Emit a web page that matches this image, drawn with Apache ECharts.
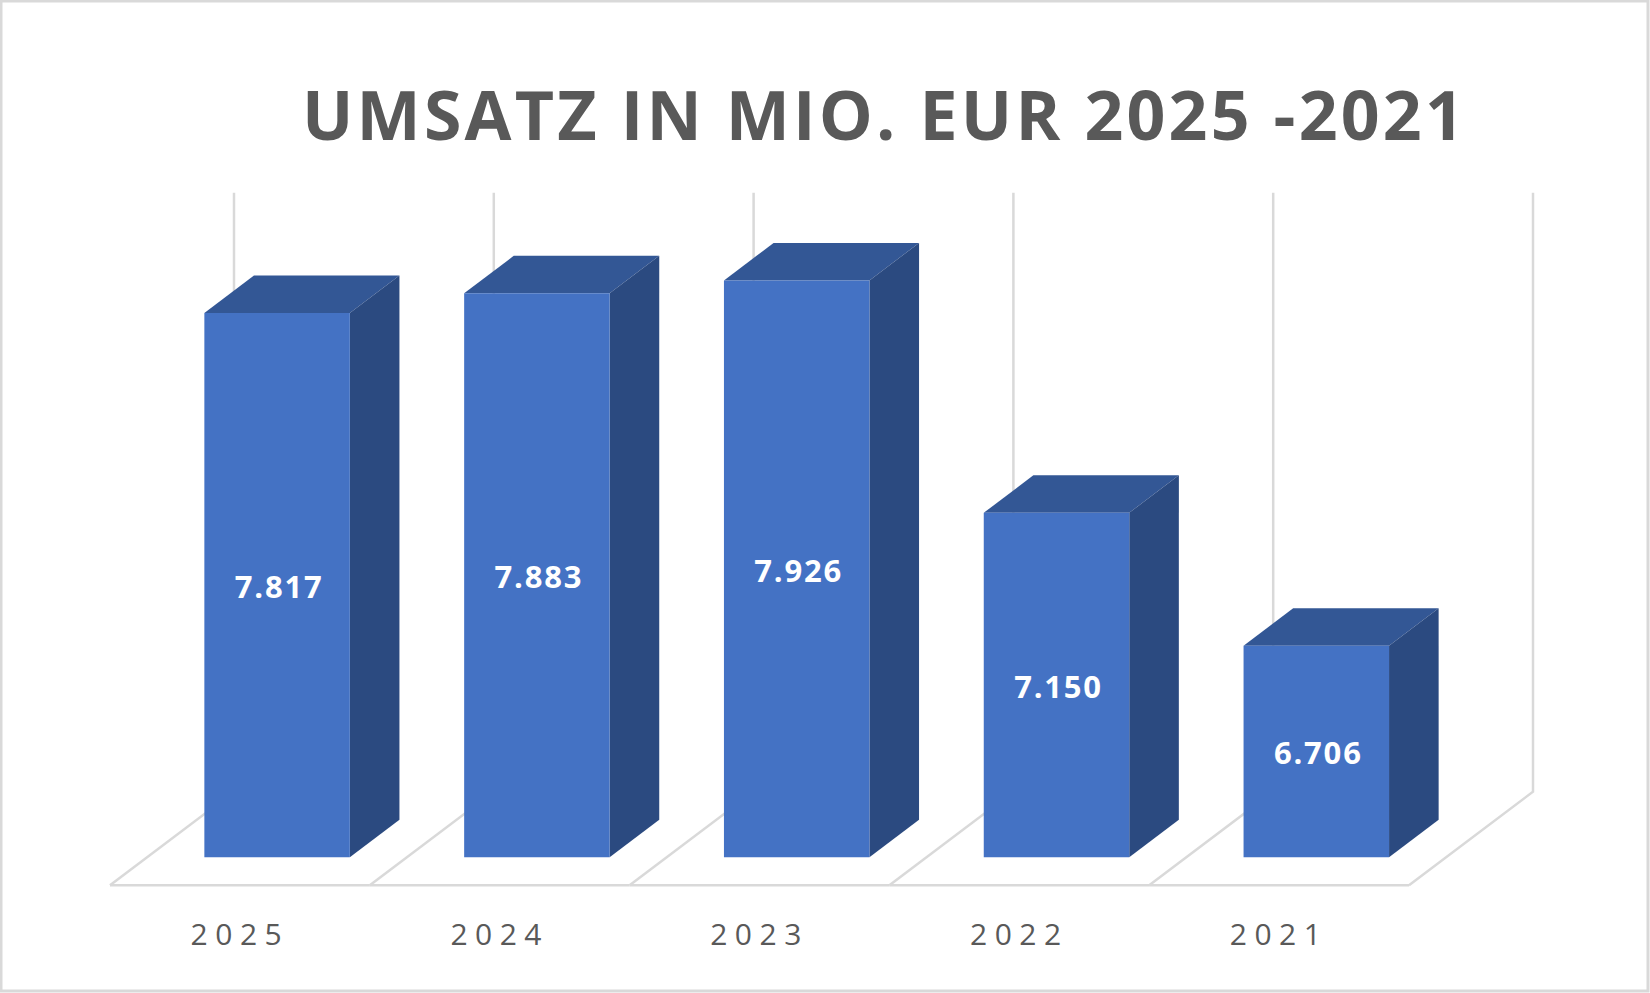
<!DOCTYPE html>
<html>
<head>
<meta charset="utf-8">
<title>Umsatz in Mio. EUR 2025 - 2021</title>
<script src="https://cdn.jsdelivr.net/npm/echarts@6/dist/echarts.min.js"></script>
<style>
  html, body { margin: 0; padding: 0; background: #fff; }
  #chart { width: 1650px; height: 993px; }
  /* Excel-like character spacing, picked by font size (svg renderer) */
  #chart text[style*="68px"] { letter-spacing: 3.2px; }
  #chart text[style*="30px"] { letter-spacing: 7.5px; }
  #chart text[style*="31px"] { letter-spacing: 1.8px; }
</style>
</head>
<body>
<div id="chart"></div>
<script>
const years = ['2025', '2024', '2023', '2022', '2021'];
const umsatz = [7.817, 7.883, 7.926, 7.150, 6.706];
const valueMin = 6;
const valueMax = 8;

// pseudo 3D: depth vector of the floor, bars sit between 30% and 70% of it
const DEPTH = [124, -93.6];
const BAR_FRONT = 0.3;
const BAR_DEPTH = 0.4;
const BAR_WIDTH = 0.56; // share of the category slot

const chart = echarts.init(document.getElementById('chart'), null, { renderer: 'svg' });

function shift(p, f) {
  return [p[0] + DEPTH[0] * f, p[1] + DEPTH[1] * f];
}

// floor + back wall gridlines, one slot per category
function renderFloor(params, api) {
  const i = api.value(0);
  const half = api.size([1, 0])[0] / 2;
  const cx = api.coord([i, valueMin])[0];
  const yBase = api.coord([i, valueMin])[1];
  const yTop = api.coord([i, valueMax])[1];
  const lineStyle = { stroke: '#d9d9d9', lineWidth: 2.5, fill: null };
  const edges = [cx - half];
  if (i === years.length - 1) edges.push(cx + half);
  const children = [];
  edges.forEach(function (x) {
    const f = [x, yBase];
    const b = shift(f, 1);
    const t = shift([x, yTop], 1);
    children.push({ type: 'polyline', shape: { points: [f, b, t] }, style: lineStyle });
  });
  children.push({
    type: 'line',
    shape: { x1: cx - half, y1: yBase, x2: cx + half, y2: yBase },
    style: lineStyle
  });
  return { type: 'group', children: children };
}

function renderBar(params, api) {
  const i = api.value(0);
  const v = api.value(1);
  const top = api.coord([i, v]);
  const base = api.coord([i, valueMin]);
  const w = api.size([1, 0])[0] * BAR_WIDTH;
  const ft = shift([top[0] - w / 2, top[1]], BAR_FRONT);
  const fb = shift([top[0] - w / 2, base[1]], BAR_FRONT);
  const x0 = ft[0], x1 = ft[0] + w, yt = ft[1], yb = fb[1];
  const dx = DEPTH[0] * BAR_DEPTH, dy = DEPTH[1] * BAR_DEPTH;
  return {
    type: 'group',
    children: [
      {
        type: 'polygon',
        shape: { points: [[x0, yt], [x1, yt], [x1 + dx, yt + dy], [x0 + dx, yt + dy]] },
        style: { fill: '#335795' }
      },
      {
        type: 'polygon',
        shape: { points: [[x1, yt], [x1 + dx, yt + dy], [x1 + dx, yb + dy], [x1, yb]] },
        style: { fill: '#2b4a80' }
      },
      {
        type: 'rect',
        shape: { x: x0, y: yt, width: w, height: yb - yt },
        style: { fill: '#4472c4' }
      },
      {
        type: 'text',
        style: {
          text: v.toFixed(3),
          x: (x0 + x1) / 2 + 2,
          y: (yt + yb) / 2 + 1,
          align: 'center',
          verticalAlign: 'middle',
          fill: '#ffffff',
          fontFamily: 'Open Sans',
          fontWeight: 'bold',
          fontSize: 31
        }
      }
    ]
  };
}

const option = {
  backgroundColor: '#ffffff',
  animation: false,
  title: {
    text: 'UMSATZ IN MIO. EUR 2025 -2021',
    left: 302,
    top: 79,
    padding: 0,
    textStyle: {
      fontFamily: 'Open Sans',
      fontWeight: 'bold',
      fontSize: 68,
      color: '#595959'
    }
  },
  grid: {
    left: 110,
    right: 241,
    top: 286.3,
    bottom: 107.7
  },
  xAxis: {
    type: 'category',
    data: years,
    axisLine: { show: false },
    axisTick: { show: false },
    splitLine: { show: false },
    axisLabel: {
      margin: 33,
      color: '#595959',
      fontFamily: 'Open Sans',
      fontSize: 30
    }
  },
  yAxis: {
    type: 'value',
    min: valueMin,
    max: valueMax,
    show: false
  },
  graphic: [{
    type: 'rect',
    shape: { x: 1, y: 1, width: 1647, height: 990 },
    style: { fill: null, stroke: '#d9d9d9', lineWidth: 3 },
    z: 0
  }],
  series: [
    {
      name: 'floor',
      type: 'custom',
      renderItem: renderFloor,
      data: years.map(function (y, i) { return [i, valueMin]; }),
      z: 1,
      silent: true
    },
    {
      name: 'Umsatz',
      type: 'custom',
      renderItem: renderBar,
      data: umsatz.map(function (v, i) { return [i, v]; }),
      z: 2
    }
  ]
};

chart.setOption(option);
window.addEventListener('resize', function () { chart.resize(); });
</script>
</body>
</html>
